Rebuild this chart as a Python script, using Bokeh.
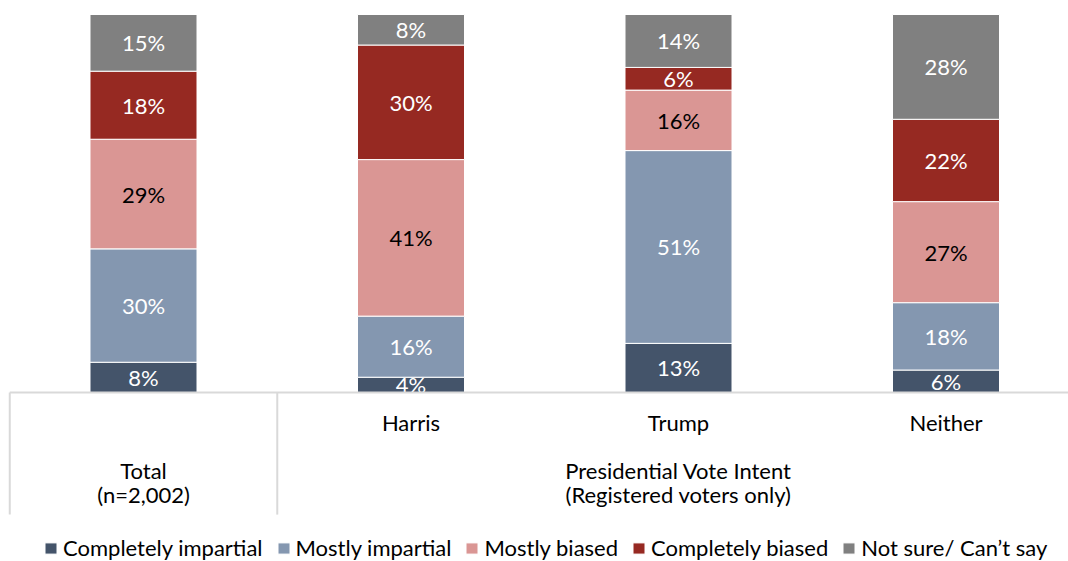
import numpy as np
from bokeh.plotting import figure
from bokeh.models import ColumnDataSource, Range1d
from bokeh.core.properties import value
from bokeh.embed import file_html
from bokeh.resources import INLINE

groups = ["Total", "Harris", "Trump", "Neither"]
series = ["Completely impartial", "Mostly impartial", "Mostly biased",
          "Completely biased", "Not sure/ Can\u2019t say"]
completely_impartial = [8, 4, 13, 6]
mostly_impartial = [30, 16, 51, 18]
mostly_biased = [29, 41, 16, 27]
completely_biased = [18, 30, 6, 22]
not_sure = [15, 8, 14, 28]
colors = ["#44546A", "#8497B0", "#DA9694", "#962922", "#808080"]
label_colors = ["white", "white", "black", "white", "white"]

header_lines = ["Presidential Vote Intent", "(Registered voters only)"]
total_lines = ["Total", "(n=2,002)"]

FONT = "Lato"
FS = "22px"
LFS = "22px"

vals = np.array([completely_impartial, mostly_impartial, mostly_biased,
                 completely_biased, not_sure], dtype=float)
norm = vals / vals.sum(axis=0) * 100.0  # 100% stacked
x = np.arange(len(groups), dtype=float)

data = {"x": x}
keys = ["s%d" % i for i in range(len(series))]
for k, row in zip(keys, norm):
    data[k] = row
src = ColumnDataSource(data)

p = figure(width=1068, height=561, output_backend="svg", toolbar_location=None,
           x_range=Range1d(-0.5346, -0.5346 + 1068 / 267.5),
           y_range=Range1d(-(561 - 392) / 3.78, 100 + 14 / 3.78),
           min_border=0)
p.axis.visible = False
p.grid.visible = False
p.outline_line_color = None
p.background_fill_color = "white"

p.vbar_stack(keys, x="x", width=0.4, source=src, color=colors,
             line_color="white", line_width=1, legend_label=series)

# segment labels
cum = np.cumsum(norm, axis=0)
lx, ly, lt, lc = [], [], [], []
for i in range(len(series)):
    for j in range(len(groups)):
        lx.append(x[j])
        ly.append(cum[i, j] - norm[i, j] / 2)
        lt.append("%d%%" % int(vals[i, j]))
        lc.append(label_colors[i])
p.text(x=lx, y=ly, text=lt, text_color=lc, text_align="center",
       text_baseline="middle", text_font=value(FONT), text_font_size=FS)

# white cover below baseline (clips labels like in the reference)
p.quad(left=[-0.6], right=[3.6], bottom=[-50], top=[0], color="white", line_color=None)

# table lines
p.segment(x0=[-0.5, -0.5, 0.5], y0=[0, 0, 0], x1=[3.6, -0.5, 0.5], y1=[0, -32.3, -32.3],
          line_color="#D9D9D9", line_width=2)

# category labels
p.text(x=x[1:], y=[-7.94] * 3, text=groups[1:], text_color="black",
       text_align="center", text_baseline="middle", text_font=value(FONT), text_font_size=FS)
p.text(x=[x[0], x[0]], y=[-20.6, -27.0], text=total_lines, text_color="black",
       text_align="center", text_baseline="middle", text_font=value(FONT), text_font_size=FS)
p.text(x=[x[2], x[2]], y=[-20.6, -27.0], text=header_lines, text_color="black",
       text_align="center", text_baseline="middle", text_font=value(FONT), text_font_size=FS)

lg = p.legend[0]
lg.orientation = "horizontal"
lg.location = (43, 0)
lg.background_fill_alpha = 0
lg.border_line_color = None
lg.label_text_font = FONT
lg.label_text_font_size = LFS
lg.label_text_color = "black"
lg.glyph_width = 15
lg.glyph_height = 14
lg.label_standoff = 5
lg.spacing = 13
lg.padding = 4
lg.margin = 0

open("out.html", "w").write(file_html(p, INLINE))
